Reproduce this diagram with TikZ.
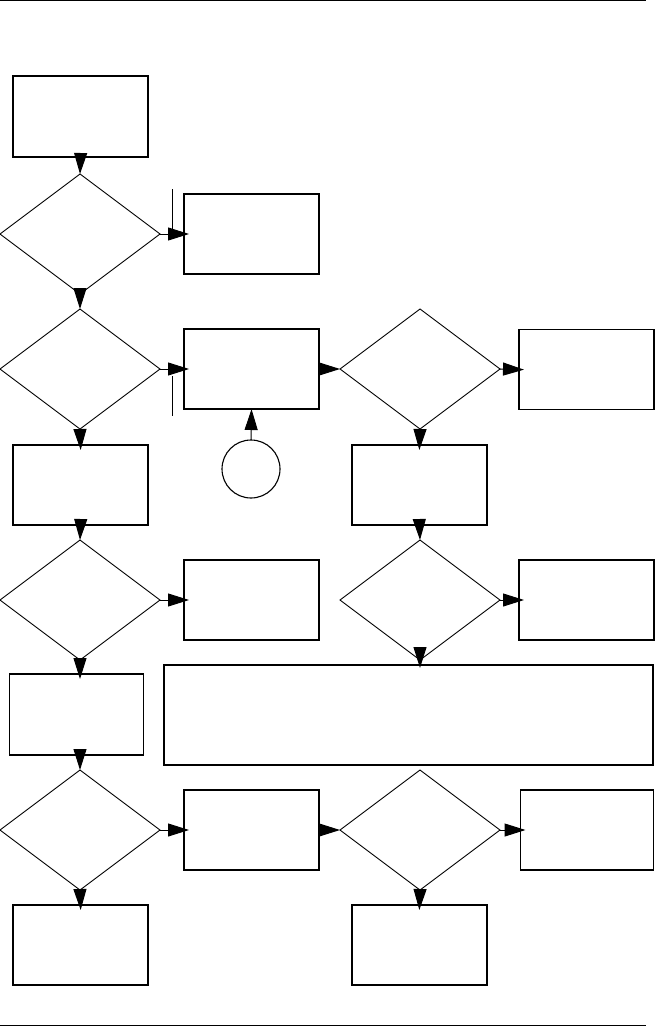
\documentclass[tikz,border=0pt]{standalone}
\usetikzlibrary{arrows.meta,shapes.geometric}

\tikzset{
  box/.style={draw, line width=1.3pt, minimum width=135pt, minimum height=80pt, inner sep=0pt, outer sep=0pt},
  decision/.style={draw, diamond, line width=0.9pt, minimum width=160pt, minimum height=120pt, inner sep=0pt, outer sep=0pt},
  joint/.style={draw, circle, line width=1.1pt, minimum size=58pt, inner sep=0pt, outer sep=0pt},
  flow/.style={line width=1pt, -{Triangle[length=21pt,width=13pt]}},
  flowin/.style={flow, shorten >=-5pt}
}

\begin{document}
\begin{tikzpicture}[x=1pt,y=-1pt]
    \useasboundingbox (0,0) rectangle (656,1027);
    \draw[line width=1pt] (0,1) -- (646,1);
    \draw[line width=1pt] (0,1025.5) -- (646,1025.5);

    % left column
    \node[box, minimum height=81pt] (start) at (80.5,116.5) {};
    \node[decision] (q1) at (80,234) {};
    \node[decision] (q2) at (80,369) {};
    \node[box] (s3) at (80.5,485) {};
    \node[decision] (q4) at (80,600) {};
    \node[box, minimum width=134pt, minimum height=81pt] (s5) at (76.5,714.5) {};
    \node[decision] (q6) at (80,830) {};
    \node[box] (s7) at (80.5,945) {};

    % middle column
    \node[box] (b1) at (251.5,234) {};
    \node[box] (b2) at (251.5,369) {};
    \node[joint] (con) at (251,469) {};
    \node[box] (b4) at (251.5,600) {};
    \node[box, minimum width=489pt, minimum height=100pt] (wide) at (408.5,715) {};
    \node[box] (b6) at (251.5,830) {};

    % right columns
    \node[decision] (r2) at (420,369) {};
    \node[box] (r3) at (419.5,485) {};
    \node[decision] (r4) at (420,600) {};
    \node[decision] (r6) at (420,830) {};
    \node[box] (r7) at (419.5,945) {};
    \node[box] (c2) at (586.5,369.5) {};
    \node[box] (c4) at (586.5,600) {};
    \node[box, minimum width=133pt] (c6) at (587,830) {};

    \draw[flow] (start.south) -- (q1.north);
    \draw[flowin] (q1.east) -- (b1.west);
    \draw[flow] (q1.south) -- (q2.north);
    \draw[flowin] (q2.east) -- (b2.west);
    \draw[flowin] (q2.south) -- (s3.north);
    \draw[flow] (b2.east) -- (r2.west);
    \draw[flowin] (r2.east) -- (c2.west);
    \draw[flowin] (r2.south) -- (r3.north);
    \draw[flow] (con.north) -- (b2.south);
    \draw[flow] (s3.south) -- (q4.north);
    \draw[flow] (r3.south) -- (r4.north);
    \draw[flowin] (q4.east) -- (b4.west);
    \draw[flowin] (r4.east) -- (c4.west);
    \draw[flowin] (q4.south) -- (q4.south |- s5.north);
    \draw[flow, shorten >=-3pt] (r4.south) -- (r4.south |- wide.north);
    \draw[flow] (q6.north |- s5.south) -- (q6.north);
    \draw[flowin] (q6.east) -- (b6.west);
    \draw[flow] (b6.east) -- (r6.west);
    \draw[flowin] (r6.east) -- (c6.west);
    \draw[flowin] (q6.south) -- (s7.north);
    \draw[flowin] (r6.south) -- (r7.north);

    % stray marks beside the first two side arrows
    \draw[line width=0.6pt] (172,189) -- (172,230);
    \draw[line width=0.6pt] (172,376) -- (172,416);
\end{tikzpicture}
\end{document}
